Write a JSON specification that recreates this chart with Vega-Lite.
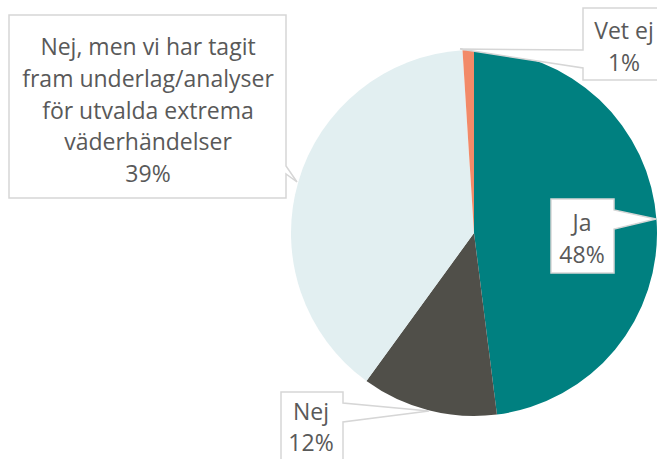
{
  "$schema": "https://vega.github.io/schema/vega-lite/v6.json",
  "autosize": {"type": "none"},
  "padding": {"left": 291, "top": 50, "right": 0, "bottom": 43},
  "width": 366,
  "height": 366,
  "background": "white",
  "config": {"view": {"stroke": null}},
  "data": {
    "values": [
      {"svar": "Ja", "andel": 48},
      {"svar": "Nej", "andel": 12},
      {"svar": "Nej, men vi har tagit|fram underlag/analyser|för utvalda extrema|väderhändelser", "andel": 39},
      {"svar": "Vet ej", "andel": 1}
    ]
  },
  "transform": [
    {"calculate": "datum.svar + '|' + datum.andel + '%'", "as": "etikett"}
  ],
  "layer": [
    {
      "mark": {"type": "arc"},
      "encoding": {
        "theta": {"field": "andel", "type": "quantitative", "stack": true},
        "order": {"field": "svar", "sort": "ascending"},
        "color": {
          "field": "svar",
          "type": "nominal",
          "scale": {
            "domain": ["Ja", "Nej", "Nej, men vi har tagit|fram underlag/analyser|för utvalda extrema|väderhändelser", "Vet ej"],
            "range": ["#008080", "#504F49", "#E2EFF1", "#F28A68"]
          },
          "legend": null
        }
      }
    },
    {
      "mark": {"type": "point", "filled": true, "color": "white", "stroke": "#D6D6D6", "strokeWidth": 1.5, "opacity": 1, "size": 4},
      "encoding": {
        "shape": {
          "field": "svar",
          "type": "nominal",
          "scale": {
            "domain": ["Ja", "Nej", "Nej, men vi har tagit|fram underlag/analyser|för utvalda extrema|väderhändelser", "Vet ej"],
            "range": [
              "M77,-34H140V-23L182,-14L140,-4V40H77Z",
              "M-193,159H-131V170L-45,178L-131,189V250H-193Z",
              "M-465,-218H-188V-67L-177,-51L-188,-59V-35H-465Z",
              "M109,-225H230V-153H109V-165L-14,-184L109,-183Z"
            ]
          },
          "legend": null
        }
      }
    },
    {
      "transform": [{"filter": "datum.svar === 'Ja'"}],
      "mark": {"type": "text", "font": "Open Sans", "fontSize": 23, "color": "#595959", "align": "center", "baseline": "alphabetic", "lineBreak": "|", "lineHeight": 32, "dx": 108, "dy": -2},
      "encoding": {"text": {"field": "etikett"}}
    },
    {
      "transform": [{"filter": "datum.svar === 'Nej'"}],
      "mark": {"type": "text", "font": "Open Sans", "fontSize": 23, "color": "#595959", "align": "center", "baseline": "alphabetic", "lineBreak": "|", "lineHeight": 31, "dx": -163, "dy": 187},
      "encoding": {"text": {"field": "etikett"}}
    },
    {
      "transform": [{"filter": "indexof(datum.svar, 'Nej, men') === 0"}],
      "mark": {"type": "text", "font": "Open Sans", "fontSize": 23, "color": "#595959", "align": "center", "baseline": "alphabetic", "lineBreak": "|", "lineHeight": 31.75, "dx": -326, "dy": -178},
      "encoding": {"text": {"field": "etikett"}}
    },
    {
      "transform": [{"filter": "datum.svar === 'Vet ej'"}],
      "mark": {"type": "text", "font": "Open Sans", "fontSize": 23, "color": "#595959", "align": "center", "baseline": "alphabetic", "lineBreak": "|", "lineHeight": 32, "dx": 150, "dy": -194},
      "encoding": {"text": {"field": "etikett"}}
    }
  ]
}
